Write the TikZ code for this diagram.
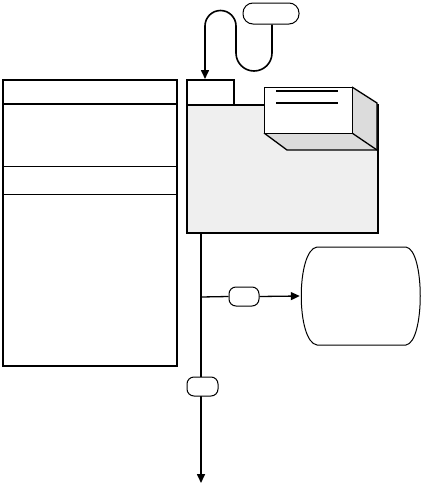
\documentclass[tikz,border=0pt]{standalone}
\usepackage{tikz}
\usetikzlibrary{arrows.meta,positioning,calc}
\usepackage{xcolor}
\definecolor{panelgray}{HTML}{EFEFEF}
\definecolor{sidegray}{HTML}{DCDCDC}

\begin{document}
\begin{tikzpicture}[
    x=1pt, y=-1pt,
    box/.style={draw=black, line width=1.6pt, inner sep=0pt, anchor=north west},
    pill/.style={draw=black, line width=1pt, inner sep=0pt, rounded corners=#1, fill=white},
    arr/.style={-{Triangle[length=9pt,width=8pt]}, line width=1.6pt},
    thin/.style={line width=1pt},
  ]
  \useasboundingbox (0,0) rectangle (424,485);

  % =================== LEFT BOX ===================
  \node[box, minimum width=174pt, minimum height=286pt] (left) at (2,79) {};
  \draw[line width=1.6pt] (2,104) -- (176,104);
  \draw[thin] (2,166) -- (176,166);
  \draw[thin] (2,194) -- (176,194);

  % =================== FOLDER PANEL ===================
  \node[box, fill=white, minimum width=47pt, minimum height=25pt] (tab) at (186,79) {};
  \node[box, fill=panelgray, minimum width=191pt, minimum height=128pt] (panel) at (186,104) {};

  % Drawer block — 3D box
  \fill[sidegray] (352,87) -- (377,103) -- (377,150) -- (352,133) -- cycle;
  \fill[sidegray] (264,133) -- (352,133) -- (377,150) -- (287,150) -- cycle;
  \draw[line width=1.3pt] (352,87) -- (377,103) -- (377,150) -- (287,150) -- (264,133);
  \draw[line width=1.3pt] (352,133) -- (377,150);
  \node[box, fill=white, line width=1.3pt, minimum width=88pt, minimum height=46pt] (drawer) at (264,87) {};
  \draw[line width=2pt] (276,91) -- (338,91);
  \draw[line width=2pt] (276,103) -- (338,103);

  % =================== INPUT LOOP ===================
  \node[pill=10pt, minimum width=56pt, minimum height=21pt] (src) at (271,13.5) {};
  \draw[arr] (src.south -| 272,0) -- (272,53) arc[start angle=0, end angle=180, radius=18]
    -- (236,26) arc[start angle=0, end angle=-180, radius=15.5] -- (tab.north -| 205,0);

  % =================== OUTPUT LINES ===================
  \coordinate (outend) at (201,483);
  \coordinate (branch) at (201,297);
  \draw[arr] (panel.south -| outend) -- (outend);
  \node[pill=7pt, minimum width=31pt, minimum height=19pt] (pillB) at (202.5,386.5) {};
  \node[pill=7pt, minimum width=30pt, minimum height=19pt] (pillA) at (244,296.5) {};

  % Drum
  \node[minimum width=122pt, minimum height=98pt, inner sep=0pt] (drum) at (361,296) {};
  \draw[thin] (317,247) -- (406,247)
    .. controls (425,250) and (425,342) .. (406,345)
    -- (317,345)
    .. controls (296,342) and (296,250) .. (317,247) -- cycle;

  \draw[line width=1.3pt] (branch) -- (pillA.west);
  \draw[arr, line width=1.3pt] (pillA.east) -- (drum.west);

\end{tikzpicture}
\end{document}
